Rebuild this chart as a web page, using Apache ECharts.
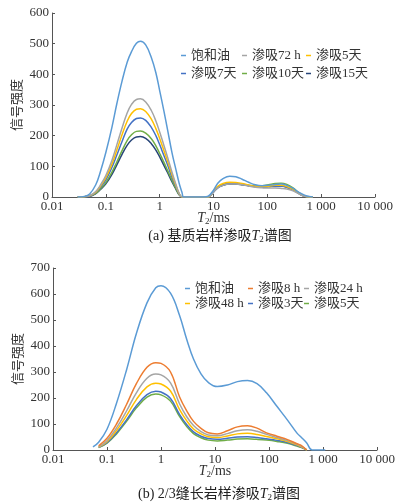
<!DOCTYPE html>
<html>
<head>
<meta charset="utf-8">
<script src="https://cdn.jsdelivr.net/npm/echarts@6/dist/echarts.min.js"></script>
<style>
    html, body {margin: 0; padding: 0; background: #fff;}
    #chart {width: 398px; height: 502px;}
</style>
</head>
<body>
<div id="chart"></div>
<script type="text/javascript">
    // (a) 基质岩样 T2 (ms)
    var t2A = [0.03, 0.04, 0.05, 0.065, 0.08, 0.1, 0.13, 0.16, 0.2, 0.25, 0.3, 0.37, 0.44, 0.55, 0.7, 0.85, 1, 1.2, 1.4, 1.7, 2, 2.3, 2.6, 2.8,
        5, 6.5, 8, 10, 12, 15, 20, 26, 34, 45, 60, 80, 105, 140, 180, 230, 300, 380, 480, 600, 700];
    var aSat   = [0, 2, 10, 40, 85, 145, 228, 304, 378, 440, 474, 501, 508, 496, 455, 405, 347, 280, 220, 143, 90, 45, 15, 0,
        0, 0, 3, 22, 45, 60, 68, 66, 58, 48, 40, 37, 38, 41, 42, 38, 28, 16, 7, 2, 0];
    var a72h   = [0, 1, 4, 18, 40, 70, 120, 170, 225, 275, 302, 318, 320, 310, 282, 248, 212, 168, 130, 80, 42, 12, 0, 0,
        0, 0, 0, 17, 30, 38, 42, 42, 40, 36, 32, 30, 29, 29, 28, 26, 20, 11, 3, 0, 0];
    var a5d    = [0, 1, 4, 16, 36, 63, 108, 153, 203, 248, 272, 286, 288, 279, 254, 223, 191, 151, 117, 72, 38, 11, 0, 0,
        0, 0, 0, 20, 35, 44, 48, 47, 44, 39, 35, 34, 35, 38, 38, 34, 25, 13, 4, 0, 0];
    var a7d    = [0, 1, 3, 14, 32, 56, 97, 137, 181, 222, 243, 256, 258, 250, 227, 200, 171, 135, 105, 64, 34, 10, 0, 0,
        0, 0, 0, 17, 31, 39, 43, 43, 41, 37, 34, 33, 34, 36, 36, 32, 23, 12, 3, 0, 0];
    var a10d   = [0, 1, 3, 12, 27, 47, 81, 114, 151, 185, 203, 214, 215, 208, 190, 167, 142, 113, 87, 54, 28, 8, 0, 0,
        0, 0, 0, 18, 32, 40, 44, 43, 41, 38, 36, 37, 40, 44, 45, 41, 30, 15, 4, 0, 0];
    var a15d   = [0, 1, 2, 11, 25, 43, 74, 105, 139, 169, 186, 196, 197, 191, 174, 153, 131, 103, 80, 49, 26, 7, 0, 0,
        0, 0, 0, 16, 30, 38, 42, 42, 40, 37, 34, 33, 34, 36, 36, 32, 24, 12, 3, 0, 0];

    // (b) 2/3缝长岩样
    var t2B = [0.055, 0.07, 0.1, 0.15, 0.23, 0.35, 0.55, 0.8, 1, 1.5, 2.2, 3, 4, 5.5, 7.5, 11, 17, 26, 40, 60, 90, 140, 220, 330, 400, 500, 630, 1100];
    var bSat = [12, 30, 80, 180, 308, 448, 566, 624, 632, 603, 518, 425, 350, 293, 260, 244, 250, 263, 267, 255, 220, 168, 115, 65, 48, 27, 0, 0];
    var b8h  = [null, 16, 45, 100, 175, 255, 318, 336, 333, 300, 205, 150, 110, 83, 66, 62, 74, 89, 93, 84, 66, 53, 40, 24, 17, 0, null, null];
    var b24h = [null, 12, 36, 85, 150, 220, 276, 292, 289, 258, 178, 128, 94, 71, 58, 55, 63, 74, 78, 72, 60, 48, 36, 22, 14, 0, null, null];
    var b48h = [null, 11, 32, 75, 132, 194, 243, 257, 254, 227, 156, 112, 81, 62, 51, 48, 54, 62, 64, 60, 52, 43, 33, 20, 12, 0, null, null];
    var b3d  = [null, 10, 28, 66, 116, 170, 213, 226, 223, 198, 137, 97, 70, 53, 44, 41, 45, 50, 51, 48, 43, 37, 29, 17, 10, 0, null, null];
    var b5d  = [null, 9, 26, 62, 110, 162, 203, 215, 212, 188, 129, 90, 63, 47, 38, 35, 38, 42, 43, 41, 38, 33, 26, 15, 9, 0, null, null];

    var namesA = ['饱和油', '渗吸72 h', '渗吸5天', '渗吸7天', '渗吸10天', '渗吸15天'];
    var namesB = ['饱和油', '渗吸8 h', '渗吸24 h', '渗吸48 h', '渗吸3天', '渗吸5天'];
    var yTicksA = [0, 600, 100];
    var yTicksB = [0, 700, 100];

    var colorsA = ['#5b9bd5', '#a5a5a5', '#ffc000', '#4472c4', '#70ad47', '#264478'];
    var colorsB = ['#5b9bd5', '#ed7d31', '#a5a5a5', '#ffc000', '#4472c4', '#70ad47'];

    var serif = '"Liberation Serif", "Noto Sans CJK SC", serif';
    var myChart = echarts.init(document.getElementById('chart'));

    function pairs(t, v) {
        return t.map(function (x, i) { return [x, v[i]]; });
    }
    function fmtLog(v) {
        var s = String(+v.toPrecision(6));
        if (v >= 1000) s = s.replace(/\B(?=(\d{3})+$)/g, ' ');
        return s;
    }

    var series = [];
    [aSat, a72h, a5d, a7d, a10d, a15d].forEach(function (v, i) {
        series.push({
            name: 'a:' + namesA[i], type: 'line', xAxisIndex: 0, yAxisIndex: 0,
            data: pairs(t2A, v), smooth: 0.4, showSymbol: false, clip: true,
            lineStyle: {width: 1.5, color: colorsA[i]}, itemStyle: {color: colorsA[i]}, z: 10 - i
        });
    });
    [bSat, b8h, b24h, b48h, b3d, b5d].forEach(function (v, i) {
        series.push({
            name: 'b:' + namesB[i], type: 'line', xAxisIndex: 1, yAxisIndex: 1,
            data: pairs(t2B, v), smooth: 0.4, showSymbol: false, clip: true,
            lineStyle: {width: 1.5, color: colorsB[i]}, itemStyle: {color: colorsB[i]}, z: 10 - i
        });
    });

    // 图例位置（每项单独放）
    var legendPosA = [[181, 49], [242, 49], [306, 49], [181, 67], [242, 67], [306, 67]];
    var legendPosB = [[185, 282], [248, 282], [304, 282], [185, 297], [248, 297], [304, 297]];
    var legends = [];
    function addLegends(prefix, names, pos) {
        names.forEach(function (n, i) {
            legends.push({
                data: [prefix + n], left: pos[i][0], top: pos[i][1], padding: 0,
                icon: 'rect', itemWidth: 5, itemHeight: 1.5, selectedMode: false,
                formatter: function (name) { return name.slice(2); },
                textStyle: {fontFamily: serif, fontSize: 13, color: '#333', padding: [0, 0, 0, 0]}
            });
        });
    }
    addLegends('a:', namesA, legendPosA);
    addLegends('b:', namesB, legendPosB);

    function xAxisOpt(gi) {
        return {
            type: 'log', logBase: 10, min: 0.01, max: 10000, gridIndex: gi,
            name: '{i|T}{s|2}{n|/ms}', nameLocation: 'middle', nameGap: 13, nameMoveOverlap: false,
            nameTextStyle: {
                fontFamily: serif, fontSize: 14, color: '#333',
                rich: {
                    i: {fontFamily: serif, fontSize: 14, fontStyle: 'italic', color: '#333'},
                    s: {fontFamily: serif, fontSize: 9, color: '#333', padding: [7, 0, 0, 0]},
                    n: {fontFamily: serif, fontSize: 14, color: '#333'}
                }
            },
            axisLine: {lineStyle: {color: '#555', width: 1}},
            axisTick: {inside: true, length: 3, lineStyle: {color: '#555'}},
            minorTick: {show: false},
            splitLine: {show: false},
            axisLabel: {fontFamily: serif, fontSize: 13, color: '#333', margin: 3, formatter: fmtLog}
        };
    }
    function yAxisOpt(gi, t) {
        return {
            type: 'value', gridIndex: gi, min: t[0], max: t[1], interval: t[2],
            name: '信号强度', nameLocation: 'middle', nameGap: 28, nameMoveOverlap: false,
            nameTextStyle: {fontFamily: serif, fontSize: 13, color: '#333'},
            axisLine: {show: true, lineStyle: {color: '#555', width: 1}},
            axisTick: {show: true, inside: true, length: 3, lineStyle: {color: '#555'}},
            splitLine: {show: false},
            axisLabel: {fontFamily: serif, fontSize: 13, color: '#333', margin: 3}
        };
    }

    var capRich = {
        i: {fontFamily: serif, fontSize: 14, fontStyle: 'italic', fill: '#222'},
        s: {fontFamily: serif, fontSize: 9, fill: '#222', padding: [7, 0, 0, 0]}
    };

    var option = {
        animation: false,
        legend: legends,
        grid: [
            {left: 52, top: 13, right: 23, height: 184},
            {left: 53, top: 268, right: 21, height: 182}
        ],
        xAxis: [xAxisOpt(0), xAxisOpt(1)],
        yAxis: [yAxisOpt(0, yTicksA), yAxisOpt(1, yTicksB)],
        graphic: [
            {type: 'text', x: 220, y: 236, style: {
                text: '(a) 基质岩样渗吸{i|T}{s|2}谱图', font: '14px ' + serif, fill: '#222',
                align: 'center', verticalAlign: 'middle', rich: capRich}},
            {type: 'text', x: 219, y: 494, style: {
                text: '(b) 2/3缝长岩样渗吸{i|T}{s|2}谱图', font: '14px ' + serif, fill: '#222',
                align: 'center', verticalAlign: 'middle', rich: capRich}}
        ],
        series: series
    };

    myChart.setOption(option);
</script>
</body>
</html>
